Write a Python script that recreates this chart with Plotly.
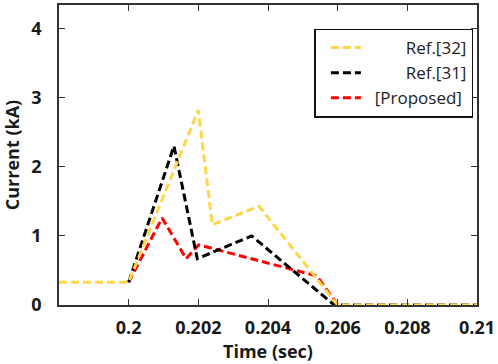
import plotly.graph_objects as go

# Data
ref32_t = [0.198, 0.2, 0.202, 0.2024, 0.20374, 0.206, 0.21]
ref32_i = [0.33, 0.33, 2.82, 1.16, 1.43, 0.0, 0.0]

ref31_t = [0.2, 0.2013, 0.20197, 0.20353, 0.2059, 0.21]
ref31_i = [0.33, 2.30, 0.67, 1.00, 0.0, 0.0]

prop_t = [0.2, 0.20096, 0.20165, 0.20201, 0.2054, 0.206]
prop_i = [0.33, 1.26, 0.67, 0.87, 0.42, 0.0]

x_ticks = [0.2, 0.202, 0.204, 0.206, 0.208, 0.21]
x_tick_labels = ["0.2", "0.202", "0.204", "0.206", "0.208", "0.21"]
y_ticks = [0, 1, 2, 3, 4]

NB = "\u00a0"
names = {
    "ref32": NB * 9 + "Ref.[32]",
    "ref31": NB * 9 + "Ref.[31]",
    "prop": NB * 2 + "[Proposed]",
}

fig = go.Figure()
dash = "8px,4px"
fig.add_trace(go.Scatter(x=prop_t, y=prop_i, mode="lines", name=names["prop"],
                         line=dict(color="#ff0000", width=3, dash=dash), legendrank=3))
fig.add_trace(go.Scatter(x=ref31_t, y=ref31_i, mode="lines", name=names["ref31"],
                         line=dict(color="#000000", width=3, dash=dash), legendrank=2))
fig.add_trace(go.Scatter(x=ref32_t, y=ref32_i, mode="lines", name=names["ref32"],
                         line=dict(color="#ffd54a", width=3, dash=dash), legendrank=1))

tickfont = dict(family="Open Sans", size=18, color="#1a1a1a", weight="bold")
fig.update_layout(
    width=498, height=364,
    margin=dict(l=59, r=19, t=3, b=59),
    paper_bgcolor="white", plot_bgcolor="white",
    showlegend=True,
    legend=dict(
        x=0.611, y=0.9215, xanchor="left", yanchor="top",
        bordercolor="#111111", borderwidth=1.5, bgcolor="white",
        font=dict(family="Open Sans", size=17, color="#222222"),
        tracegroupgap=0, itemwidth=30, indentation=10,
    ),
    xaxis=dict(
        range=[0.198, 0.21], tickvals=x_ticks, ticktext=x_tick_labels,
        ticks="inside", ticklen=6, tickcolor="#333333", tickwidth=1.2,
        showline=True, linecolor="#333333", linewidth=1.5, mirror="ticks",
        showgrid=False, zeroline=False, tickfont=tickfont, ticklabelstandoff=6,
        title=dict(text="Time (sec)", font=tickfont, standoff=2),
    ),
    yaxis=dict(
        range=[0, 4.34], tickvals=y_ticks,
        ticks="inside", ticklen=6, tickcolor="#333333", tickwidth=1.2,
        showline=True, linecolor="#333333", linewidth=1.5, mirror="ticks",
        showgrid=False, zeroline=False, tickfont=tickfont, ticklabelstandoff=12,
        title=dict(text="Current (kA)", font=tickfont, standoff=8),
    ),
)

fig.write_html("out.html", config={"displayModeBar": False},
               post_script="document.body.style.margin='0';document.body.style.overflow='hidden';")
